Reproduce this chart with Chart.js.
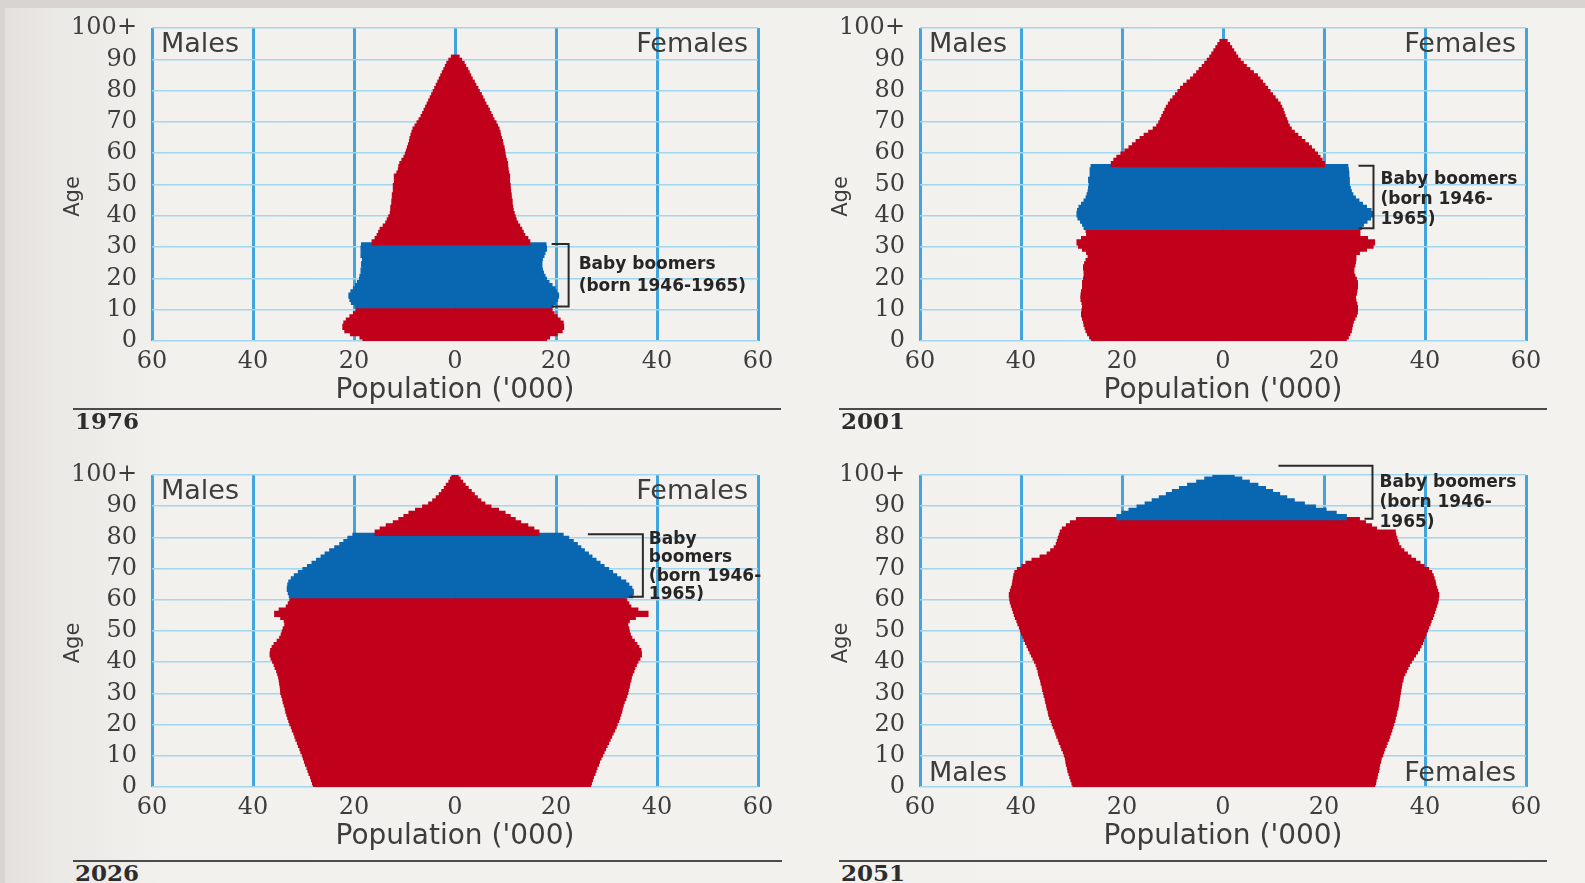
<!DOCTYPE html>
<html>
<head>
<meta charset="utf-8">
<title>Population pyramids 1976-2051</title>
<script src="https://cdn.jsdelivr.net/npm/chart.js@4.4.1/dist/chart.umd.min.js"></script>
<style>
  html, body { margin: 0; padding: 0; }
  body {
    width: 1585px; height: 883px; position: relative; overflow: hidden;
    background: linear-gradient(90deg, #e3e0de 0px, #ebe9e6 55px, #f3f1ee 170px, #f4f2ef 100%);
    font-family: "DejaVu Sans", sans-serif;
  }
  .strip-top { position: absolute; left: 0; top: 0; width: 1585px; height: 8px; background: #d8d4d2; }
  .strip-left { position: absolute; left: 0; top: 0; width: 5px; height: 883px; background: #d8d4d2; }
  .panel { position: absolute; }
  .panel canvas { display: block; }
  .rule { position: absolute; height: 2px; background: #4b4b4b; }
  .year { position: absolute; font: bold 23px "DejaVu Serif", serif; line-height: 22px; color: #2d2d2d; }
</style>
</head>
<body>
<div class="strip-top"></div>
<div class="strip-left"></div>

<script>
// ages 0..100 (the last row is 100+)
const AGES = Array.from({ length: 101 }, (_, i) => i);
const AGE_TICK_LABELS = ['0', '10', '20', '30', '40', '50', '60', '70', '80', '90', '100+'];
const POP_TICK_LABELS = ['60', '40', '20', '0', '20', '40', '60'];
const YEARS = [1976, 2001, 2026, 2051];
const BOOMERS_BORN = [1946, 1965];

// population in thousands, one value per year of age
const MALES_1976 = [
  18.0, 18.6, 20.5, 21.6, 22.0, 21.8, 21.3, 20.6, 19.9, 19.4,
  19.2, 19.6, 20.3, 20.6, 20.8, 20.4, 19.9, 19.5, 19.1, 18.7,
  18.6, 18.2, 18.4, 18.0, 18.3, 18.1, 18.0, 18.4, 18.2, 18.4,
  18.3, 16.2, 15.6, 15.2, 14.9, 14.6, 14.0, 13.5, 13.2, 12.9,
  12.6, 12.4, 12.5, 12.2, 12.3, 12.1, 12.2, 12.0, 11.9, 12.0,
  11.8, 11.6, 11.8, 11.3, 11.0, 10.9, 10.7, 10.3, 9.9, 9.6,
  9.4, 9.2, 9.0, 8.8, 8.7, 8.5, 8.3, 8.1, 7.7, 7.3,
  6.9, 6.5, 6.2, 5.9, 5.6, 5.3, 5.0, 4.7, 4.4, 4.1,
  3.8, 3.5, 3.2, 2.9, 2.6, 2.3, 2.0, 1.7, 1.4, 1.0,
  0.5, 0, 0, 0, 0, 0, 0, 0, 0, 0,
  0
];
const FEMALES_1976 = [
  17.9, 18.5, 20.0, 21.0, 21.3, 21.2, 20.6, 20.0, 19.4, 19.0,
  18.9, 19.2, 19.8, 20.1, 20.3, 19.9, 19.6, 19.0, 18.4, 17.9,
  17.6, 17.3, 17.1, 16.9, 17.0, 16.9, 17.1, 17.4, 17.6, 17.9,
  17.8, 14.6, 14.2, 13.6, 13.3, 13.0, 12.6, 12.2, 11.9, 11.7,
  11.5, 11.3, 11.2, 11.0, 11.1, 10.9, 10.9, 10.8, 10.7, 10.7,
  10.6, 10.5, 10.6, 10.4, 10.3, 10.2, 10.2, 10.0, 9.8, 9.7,
  9.6, 9.5, 9.3, 9.2, 9.0, 8.8, 8.7, 8.5, 8.2, 7.9,
  7.5, 7.2, 6.9, 6.6, 6.3, 5.9, 5.6, 5.3, 5.0, 4.6,
  4.3, 3.9, 3.6, 3.2, 2.9, 2.6, 2.3, 1.9, 1.6, 1.1,
  0.6, 0, 0, 0, 0, 0, 0, 0, 0, 0,
  0
];
const MALES_2001 = [
  25.8, 26.2, 26.6, 26.9, 27.1, 27.3, 27.4, 27.6, 27.8, 27.7,
  27.6, 27.5, 27.7, 27.9, 27.9, 27.8, 27.6, 27.5, 27.6, 27.4,
  27.3, 27.2, 27.3, 27.4, 27.2, 26.9, 26.5, 26.3, 26.8, 27.6,
  28.4, 28.7, 27.8, 26.8, 26.5, 26.9, 27.3, 27.6, 28.0, 28.5,
  28.7, 28.6, 28.3, 27.8, 27.3, 26.9, 26.7, 26.5, 26.4, 26.3,
  26.2, 26.4, 26.1, 26.0, 26.1, 25.9, 21.9, 21.4, 20.8, 20.0,
  19.2, 18.4, 17.7, 17.0, 16.2, 15.4, 14.5, 13.6, 12.9, 12.5,
  12.2, 11.9, 11.6, 11.3, 11.0, 10.6, 10.2, 9.7, 9.2, 8.7,
  8.2, 7.6, 6.9, 6.2, 5.6, 5.0, 4.5, 3.9, 3.4, 2.9,
  2.4, 2.0, 1.6, 1.2, 0.8, 0.4, 0, 0, 0, 0,
  0
];
const FEMALES_2001 = [
  24.2, 24.6, 24.9, 25.2, 25.3, 25.4, 25.6, 25.9, 26.2, 26.4,
  26.4, 26.3, 26.1, 26.0, 26.0, 26.2, 26.3, 26.4, 26.4, 26.2,
  25.9, 25.7, 25.6, 25.7, 25.9, 26.0, 26.1, 26.0, 26.8, 28.2,
  29.5, 29.8, 28.4, 26.9, 26.6, 26.9, 27.2, 27.6, 28.3, 29.0,
  29.4, 29.1, 28.2, 27.4, 26.7, 26.0, 25.5, 25.2, 25.0, 24.8,
  24.7, 24.8, 24.6, 24.7, 24.6, 24.5, 19.9, 19.4, 19.0, 18.5,
  17.9, 17.3, 16.7, 16.0, 15.3, 14.6, 13.9, 13.3, 12.9, 12.6,
  12.4, 12.1, 11.9, 11.7, 11.4, 11.1, 10.6, 10.1, 9.6, 9.1,
  8.6, 8.1, 7.6, 7.1, 6.6, 5.8, 5.1, 4.4, 3.8, 3.2,
  2.7, 2.3, 1.9, 1.5, 1.1, 0.6, 0, 0, 0, 0,
  0
];
const MALES_2026 = [
  27.8, 28.0, 28.2, 28.4, 28.7, 28.9, 29.1, 29.4, 29.6, 29.8,
  30.0, 30.3, 30.5, 30.8, 31.0, 31.3, 31.5, 31.7, 32.0, 32.2,
  32.5, 32.7, 32.9, 33.1, 33.3, 33.4, 33.6, 33.8, 33.9, 34.1,
  34.3, 34.3, 34.4, 34.5, 34.6, 34.7, 34.9, 35.1, 35.4, 35.6,
  35.9, 36.2, 36.4, 36.3, 36.0, 35.6, 35.0, 34.5, 34.2, 34.0,
  33.8, 33.5, 33.3, 33.6, 34.3, 35.5, 34.6, 33.2, 32.8, 32.5,
  32.3, 32.6, 32.8, 33.0, 32.9, 32.7, 32.2, 31.6, 30.8, 29.9,
  29.0, 28.1, 27.2, 26.3, 25.5, 24.6, 23.6, 22.6, 21.8, 21.0,
  20.0, 15.6, 14.6, 13.4, 12.0, 10.9, 9.9, 8.9, 7.6, 6.2,
  5.0, 4.2, 3.5, 2.9, 2.4, 1.9, 1.5, 1.0, 0.7, 0.4,
  0
];
const FEMALES_2026 = [
  26.6, 26.8, 27.0, 27.2, 27.5, 27.7, 27.9, 28.2, 28.4, 28.7,
  29.0, 29.3, 29.6, 29.9, 30.2, 30.5, 30.8, 31.1, 31.4, 31.7,
  31.9, 32.2, 32.4, 32.6, 32.8, 32.9, 33.1, 33.3, 33.6, 33.8,
  34.0, 34.1, 34.3, 34.4, 34.6, 34.7, 34.9, 35.2, 35.4, 35.7,
  36.0, 36.4, 36.7, 36.6, 36.2, 35.8, 35.3, 34.8, 34.5, 34.3,
  34.2, 34.0, 33.9, 34.3, 35.5, 38.0, 36.0, 34.6, 34.2, 33.8,
  33.4, 35.0, 35.1, 34.8, 34.2, 33.6, 32.6, 31.8, 31.0, 30.2,
  29.3, 28.5, 27.7, 26.9, 26.2, 25.4, 24.7, 24.0, 23.2, 22.3,
  21.2, 16.4, 15.4, 14.2, 12.8, 11.7, 10.7, 9.7, 8.4, 6.9,
  5.7, 4.9, 4.2, 3.6, 3.0, 2.4, 1.8, 1.3, 0.8, 0.4,
  0
];
const MALES_2051 = [
  29.5, 29.7, 29.9, 30.1, 30.3, 30.5, 30.6, 30.8, 30.9, 31.0,
  31.2, 31.4, 31.7, 31.9, 32.2, 32.4, 32.7, 32.9, 33.1, 33.4,
  33.6, 33.8, 34.1, 34.3, 34.4, 34.6, 34.7, 34.9, 35.0, 35.2,
  35.3, 35.5, 35.6, 35.8, 35.9, 36.1, 36.3, 36.4, 36.6, 36.8,
  37.1, 37.4, 37.7, 38.0, 38.3, 38.6, 38.9, 39.2, 39.4, 39.7,
  39.9, 40.1, 40.4, 40.6, 40.9, 41.1, 41.3, 41.5, 41.7, 41.9,
  42.0, 42.1, 41.9, 41.7, 41.5, 41.4, 41.3, 41.2, 41.0, 40.5,
  39.6, 38.8, 37.6, 36.0, 34.6, 33.9, 33.2, 32.8, 32.6, 32.4,
  32.2, 32.0, 31.6, 30.8, 30.0, 28.8, 20.8, 19.8, 18.4, 16.8,
  15.2, 13.8, 12.4, 11.0, 9.8, 8.4, 6.8, 5.0, 3.4, 1.8,
  0.5
];
const FEMALES_2051 = [
  29.8, 30.0, 30.1, 30.3, 30.4, 30.6, 30.7, 30.8, 31.0, 31.1,
  31.4, 31.6, 31.8, 32.1, 32.3, 32.6, 32.8, 33.0, 33.2, 33.4,
  33.6, 33.8, 33.9, 34.1, 34.2, 34.4, 34.5, 34.6, 34.7, 34.8,
  34.9, 35.0, 35.1, 35.2, 35.4, 35.5, 35.8, 36.1, 36.4, 36.7,
  37.1, 37.5, 37.9, 38.3, 38.7, 39.0, 39.3, 39.5, 39.8, 40.0,
  40.3, 40.5, 40.8, 41.0, 41.3, 41.5, 41.7, 41.9, 42.1, 42.3,
  42.4, 42.5, 42.3, 42.1, 41.9, 41.8, 41.6, 41.4, 41.1, 40.5,
  39.6, 38.8, 37.9, 37.0, 36.3, 35.6, 35.0, 34.6, 34.4, 34.2,
  34.0, 33.9, 30.2, 29.2, 28.0, 26.8, 24.2, 22.2, 20.2, 18.1,
  15.9, 13.9, 12.4, 11.0, 9.6, 8.2, 6.7, 5.0, 3.5, 2.0,
  0.6
];

const RED = '#c1001b';
const BLUE = '#0967b2';
const TEXT = '#3d3d3d';

// layout of the four panels (plot area in page pixels)
const PANELS = [
  { males: MALES_1976, females: FEMALES_1976, left: 152, top: 28, plotH: 313,
    ruleX: [73, 781], ruleY: 408, sexAt: 'top',
    bracketAt: 22.5, tickTop: 17, tickBottom: 17, noteDx: 10, noteAge: 24.4, noteGap: 22,
    notes: ['Baby boomers', '(born 1946-1965)'] },
  { males: MALES_2001, females: FEMALES_2001, left: 920, top: 28, plotH: 313,
    ruleX: [839, 1547], ruleY: 408, sexAt: 'top',
    bracketAt: 29.8, tickTop: 15, tickBottom: 15, noteDx: 7, noteAge: 51.5, noteGap: 20,
    notes: ['Baby boomers', '(born 1946-', '1965)'] },
  { males: MALES_2026, females: FEMALES_2026, left: 152, top: 475, plotH: 312,
    ruleX: [73, 782], ruleY: 860, sexAt: 'top',
    bracketAt: 37.2, tickTop: 55, tickBottom: 14, noteDx: 6, noteAge: 79.4, noteGap: 18.5,
    notes: ['Baby', 'boomers', '(born 1946-', '1965)'] },
  // the bracket in 2051 is cut short above the plot, as in the printed chart
  { males: MALES_2051, females: FEMALES_2051, left: 920, top: 475, plotH: 312,
    ruleX: [839, 1547], ruleY: 860, sexAt: 'bottom', bracketTopAge: 103,
    bracketAt: 29.6, tickTop: 94, tickBottom: 8, noteDx: 7, noteAge: 97.6, noteGap: 20,
    notes: ['Baby boomers', '(born 1946-', '1965)'] }
];

// PAD_TOP is larger than the half label height + tick padding Chart.js reserves
const PLOT_W = 606, AXIS_W = 112, AXIS_H = 67, PAD_TOP = 32, PAD_RIGHT = 40;

// Males/Females labels, the rotated "Age" title and the baby boomer bracket
const pyramidNotes = {
  id: 'pyramidNotes',
  afterDatasetsDraw(chart, args, opts) {
    const { ctx, chartArea: a, scales: { x, y } } = chart;
    ctx.save();
    ctx.fillStyle = TEXT;
    ctx.textBaseline = 'middle';
    ctx.font = '27px "DejaVu Sans"';
    const sy = opts.sexAt === 'bottom' ? a.bottom - 13 : a.top + 17;
    ctx.textAlign = 'left';
    ctx.fillText('Males', a.left + 9, sy);
    ctx.textAlign = 'right';
    ctx.fillText('Females', a.right - 10, sy);

    ctx.save();
    ctx.translate(a.left - 78, (a.top + a.bottom) / 2 + 12);
    ctx.rotate(-Math.PI / 2);
    ctx.textAlign = 'center';
    ctx.font = '21px "DejaVu Sans"';
    ctx.fillText('Age', 0, 0);
    ctx.restore();

    const bx = x.getPixelForValue(opts.bracketAt);
    const yTop = y.getPixelForValue(opts.bracketTopAge || opts.boom[1] + 1);
    const yBot = y.getPixelForValue(opts.boom[0]);
    ctx.strokeStyle = '#2a2a2a';
    ctx.lineWidth = 2;
    ctx.beginPath();
    ctx.moveTo(bx - opts.tickTop, yTop);
    ctx.lineTo(bx, yTop);
    ctx.lineTo(bx, yBot);
    ctx.lineTo(bx - opts.tickBottom, yBot);
    ctx.stroke();

    ctx.font = 'bold 17px "DejaVu Sans"';
    ctx.textAlign = 'left';
    ctx.fillStyle = '#262626';
    const ty = y.getPixelForValue(opts.noteAge);
    opts.notes.forEach((t, i) => ctx.fillText(t, bx + opts.noteDx, ty + i * opts.noteGap));
    ctx.restore();
  }
};

function makePanel(p, year) {
  const boom = [year - BOOMERS_BORN[1], year - BOOMERS_BORN[0]];
  const barColor = c => {
    const age = AGES[c.dataIndex];
    return age >= boom[0] && age <= boom[1] ? BLUE : RED;
  };

  const wrap = document.createElement('div');
  wrap.className = 'panel';
  wrap.style.left = (p.left - AXIS_W) + 'px';
  wrap.style.top = (p.top - PAD_TOP) + 'px';
  const canvas = document.createElement('canvas');
  canvas.width = AXIS_W + PLOT_W + PAD_RIGHT;
  canvas.height = PAD_TOP + p.plotH + AXIS_H;
  wrap.appendChild(canvas);
  document.body.appendChild(wrap);

  const rule = document.createElement('div');
  rule.className = 'rule';
  rule.style.left = p.ruleX[0] + 'px';
  rule.style.width = (p.ruleX[1] - p.ruleX[0]) + 'px';
  rule.style.top = p.ruleY + 'px';
  document.body.appendChild(rule);

  const lbl = document.createElement('div');
  lbl.className = 'year';
  lbl.textContent = year;
  lbl.style.left = (p.ruleX[0] + 2) + 'px';
  lbl.style.top = (p.ruleY + 2) + 'px';
  document.body.appendChild(lbl);

  const tickFont = { family: '"DejaVu Serif", serif', size: 24 };

  return new Chart(canvas, {
    type: 'bar',
    data: {
      datasets: [
        {
          label: 'Males',
          // ages with nobody left are skipped, so no hairline bar is drawn
          data: AGES.map((a, i) => ({ x: p.males[i] ? -p.males[i] : null, y: a + 0.5 })),
          backgroundColor: barColor
        },
        {
          label: 'Females',
          data: AGES.map((a, i) => ({ x: p.females[i] ? p.females[i] : null, y: a + 0.5 })),
          backgroundColor: barColor
        }
      ]
    },
    options: {
      indexAxis: 'y',
      responsive: false,
      animation: false,
      events: [],
      layout: { autoPadding: false, padding: { top: PAD_TOP, right: PAD_RIGHT, left: 0, bottom: 0 } },
      datasets: {
        // bars overlap a little so no gridline shows through the seams
        bar: { grouped: false, barPercentage: 1, categoryPercentage: 1, borderWidth: 0, inflateAmount: 1.6 }
      },
      plugins: {
        legend: { display: false },
        tooltip: { enabled: false },
        pyramidNotes: {
          boom: boom,
          sexAt: p.sexAt,
          bracketTopAge: p.bracketTopAge,
          bracketAt: p.bracketAt,
          tickTop: p.tickTop,
          tickBottom: p.tickBottom,
          noteDx: p.noteDx,
          noteAge: p.noteAge,
          noteGap: p.noteGap,
          notes: p.notes
        }
      },
      scales: {
        x: {
          type: 'linear',
          min: -60,
          max: 60,
          ticks: {
            stepSize: 20,
            autoSkip: false,
            maxRotation: 0,
            padding: 6,
            color: TEXT,
            font: tickFont,
            callback: (v, i) => POP_TICK_LABELS[i]
          },
          grid: { color: '#40a5dc', lineWidth: 3, drawTicks: false },
          border: { display: false },
          title: {
            display: true,
            text: "Population ('000)",
            color: TEXT,
            font: { family: '"DejaVu Sans"', size: 28 },
            padding: { top: 0, bottom: 0 }
          },
          afterFit: s => { s.height = AXIS_H; }
        },
        y: {
          type: 'linear',
          min: 0,
          max: 100,
          offset: false,
          ticks: {
            stepSize: 10,
            autoSkip: false,
            padding: 15,
            color: TEXT,
            font: tickFont,
            callback: (v, i) => AGE_TICK_LABELS[i]
          },
          grid: { color: '#a2d6ef', lineWidth: 1.5, drawTicks: false, offset: false },
          border: { display: false },
          afterFit: s => { s.width = AXIS_W; }
        }
      }
    },
    plugins: [pyramidNotes]
  });
}

PANELS.forEach((p, i) => makePanel(p, YEARS[i]));
</script>
</body>
</html>
